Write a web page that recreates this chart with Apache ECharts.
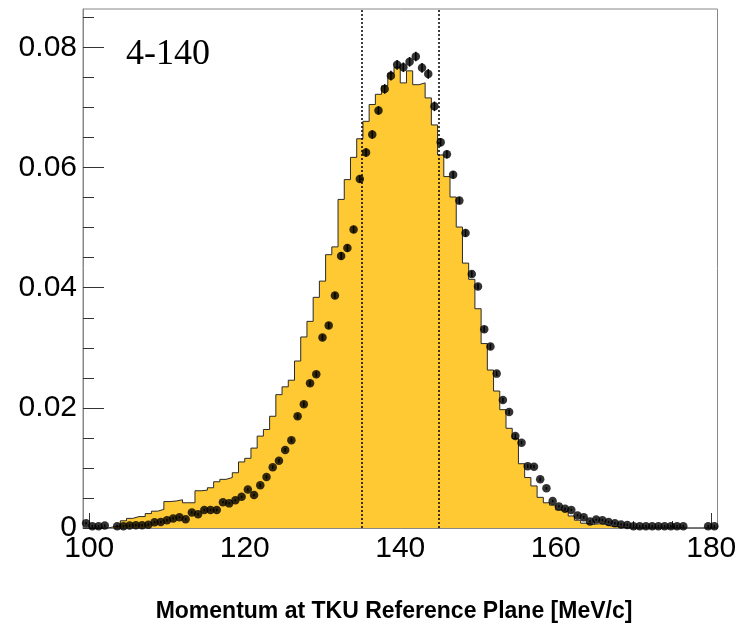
<!DOCTYPE html>
<html>
<head>
<meta charset="utf-8">
<script src="https://cdn.jsdelivr.net/npm/echarts@6/dist/echarts.min.js"></script>
<style>
html,body{margin:0;padding:0;background:#fff;}
#c{width:740px;height:628px;}
</style>
</head>
<body>
<div id="c"></div>
<script>
// Binning of the histogram (bin edges = binLow + k*binWidth)
const binLow = 99.2;
const binWidth = 0.8;

// Simulated histogram (yellow filled), one value per bin (102 bins)
const histValues = [
  0, 0, 0, 0, 0.0002, 0.0003, 0.0012, 0.0016, 0.0019, 0.0019,
  0.0024, 0.0028, 0.0031, 0.0044, 0.0045, 0.0047, 0.0042, 0.0042, 0.0062, 0.0063,
  0.0067, 0.0077, 0.0081, 0.0084, 0.0092, 0.0110, 0.0116, 0.0133, 0.0153, 0.0164,
  0.0186, 0.0222, 0.0235, 0.0246, 0.0278, 0.0318, 0.0344, 0.0384, 0.0411, 0.0455,
  0.0468, 0.0547, 0.0580, 0.0617, 0.0648, 0.0677, 0.0705, 0.0722, 0.0736, 0.0757,
  0.0767, 0.0741, 0.0761, 0.0738, 0.0741, 0.0716, 0.0671, 0.0621, 0.0585, 0.0551,
  0.0501, 0.0441, 0.0414, 0.0365, 0.0307, 0.0263, 0.0228, 0.0197, 0.0166, 0.0149,
  0.0107, 0.0084, 0.0070, 0.0051, 0.0042, 0.0038, 0.0030, 0.0027, 0.0020, 0.0013,
  0.0008, 0.0006, 0.0007, 0.0006, 0.0003, 0.0002, 0.0001, 0, 0, 0,
  0, 0, 0, 0, 0, 0, 0, 0, 0, 0,
  0, 0
];

// Data points (black markers), one per bin; null = empty bin
const dataValues = [
  0.0008, 0.0003, 0.0003, 0.0004, null, 0.0003, 0.0003, 0.0004, 0.00045, 0.00045,
  0.00056, 0.00095, 0.0010, 0.0013, 0.0016, 0.0018, 0.00145, 0.0026, 0.0023, 0.0030,
  0.0030, 0.0030, 0.0043, 0.0041, 0.0046, 0.0052, 0.0064, 0.0055, 0.0071, 0.0085,
  0.0101, 0.0112, 0.0130, 0.0146, 0.0186, 0.0206, 0.0241, 0.0256, 0.0317, 0.0337,
  0.0387, 0.0453, 0.0466, 0.0497, 0.0581, 0.0625, 0.0655, 0.0695, 0.0731, 0.0753,
  0.0771, 0.0767, 0.0776, 0.0785, 0.0766, 0.0756, 0.0702, 0.0642, 0.0622, 0.0588,
  0.0545, 0.0491, 0.0423, 0.0402, 0.0331, 0.0302, 0.0257, 0.0213, 0.0193, 0.0153,
  0.0142, 0.0103, 0.0102, 0.0081, 0.0066, 0.0045, 0.0036, 0.0032, 0.0030, 0.0021,
  0.0018, 0.0011, 0.0014, 0.0013, 0.0010, 0.0008, 0.0006, 0.0005, 0.0003, 0.0003,
  0.0003, 0.0003, 0.0003, 0.0003, 0.0003, 0.0003, 0.0003, null, null, null,
  0.0003, 0.0003
];

// Statistical errors of the data points
const dataErrors = [
  0.0002, 0.0002, 0.0002, 0.0002, 0, 0.0002, 0.0002, 0.0002, 0.0002, 0.0002,
  0.0002, 0.0002, 0.0002, 0.0002, 0.0002, 0.0002, 0.0002, 0.0002, 0.0002, 0.0002,
  0.0002, 0.0002, 0.0002, 0.0002, 0.0002, 0.0002, 0.0002, 0.0002, 0.0003, 0.0003,
  0.0003, 0.0003, 0.0003, 0.0003, 0.0004, 0.0004, 0.0004, 0.0004, 0.0005, 0.0005,
  0.0005, 0.0006, 0.0006, 0.0006, 0.0006, 0.0007, 0.0007, 0.0007, 0.0008, 0.0008,
  0.0008, 0.0008, 0.0008, 0.0008, 0.0008, 0.0008, 0.0008, 0.0007, 0.0007, 0.0006,
  0.0006, 0.0006, 0.0005, 0.0005, 0.0005, 0.0005, 0.0004, 0.0004, 0.0004, 0.0004,
  0.0003, 0.0003, 0.0003, 0.0003, 0.0002, 0.0002, 0.0002, 0.0002, 0.0002, 0.0002,
  0.0002, 0.0002, 0.0002, 0.0002, 0.0002, 0.0002, 0.0002, 0.0002, 0.0002, 0.0002,
  0.0002, 0.0002, 0.0002, 0.0002, 0.0002, 0.0002, 0.0002, 0, 0, 0,
  0.0002, 0.0002
];

// Axis ticks / labels
const xLabelTicks = [100, 120, 140, 160, 180];
const xMinorTicks = [100, 105, 110, 115, 120, 125, 130, 135, 140, 145, 150, 155, 160, 165, 170, 175, 180];
const yLabelTicks = [0, 0.02, 0.04, 0.06, 0.08];
const yMinorTicks = [0, 0.005, 0.01, 0.015, 0.02, 0.025, 0.03, 0.035, 0.04, 0.045, 0.05, 0.055, 0.06, 0.065, 0.07, 0.075, 0.08, 0.085];
const cutLines = [135, 145];
const panelLabel = '4-140';
const xTitle = 'Momentum at TKU Reference Plane [MeV/c]';
const yMax = 0.0864;

// Build series data
const nBins = histValues.length;
const xMin = binLow;
const xMax = binLow + nBins * binWidth;
const histLine = [];
for (let k = 0; k < nBins; k++) histLine.push([binLow + k * binWidth, histValues[k]]);
histLine.push([xMax, histValues[nBins - 1]]);

const points = [];
const errBars = [];
for (let k = 0; k < dataValues.length; k++) {
  const v = dataValues[k];
  if (v === null) continue;
  const c = binLow + (k + 0.5) * binWidth;
  points.push([c, v]);
  if (dataErrors[k] > 0) errBars.push([c, v - dataErrors[k], v + dataErrors[k]]);
}

const FONT = 'Liberation Sans, Arial, Helvetica, sans-serif';
const chart = echarts.init(document.getElementById('c'), null, {renderer: 'canvas'});

chart.setOption({
  animation: false,
  backgroundColor: '#fff',
  grid: {
    left: 83, right: 22.5, top: 9, bottom: 100,
    outerBoundsMode: 'none', containLabel: false,
    show: true, borderColor: '#888', borderWidth: 1, backgroundColor: 'transparent'
  },
  xAxis: [
    {
      type: 'value', min: xMin, max: xMax, position: 'bottom',
      axisLine: {show: true, lineStyle: {color: '#888', width: 1}},
      axisTick: {show: true, inside: true, length: 15, customValues: xLabelTicks, lineStyle: {color: '#333', width: 1}},
      axisLabel: {show: true, customValues: xLabelTicks, margin: 6, color: '#000', fontSize: 30, fontFamily: FONT,
                  formatter: v => String(Math.round(v))},
      splitLine: {show: false}
    },
    {
      type: 'value', min: xMin, max: xMax, position: 'bottom', offset: 0,
      axisLine: {show: false},
      axisTick: {show: true, inside: true, length: 7, customValues: xMinorTicks, lineStyle: {color: '#333', width: 1}},
      axisLabel: {show: false},
      splitLine: {show: false}
    }
  ],
  yAxis: [
    {
      type: 'value', min: 0, max: yMax, position: 'left',
      axisLine: {show: true, lineStyle: {color: '#888', width: 1}},
      axisTick: {show: true, inside: true, length: 21, customValues: yLabelTicks, lineStyle: {color: '#333', width: 1}},
      axisLabel: {show: true, customValues: yLabelTicks, margin: 6, color: '#000', fontSize: 30, fontFamily: FONT,
                  formatter: v => (Math.abs(v) < 1e-9 ? '0' : v.toFixed(2))},
      splitLine: {show: false}
    },
    {
      type: 'value', min: 0, max: yMax, position: 'left', offset: 0,
      axisLine: {show: false},
      axisTick: {show: true, inside: true, length: 11, customValues: yMinorTicks, lineStyle: {color: '#333', width: 1}},
      axisLabel: {show: false},
      splitLine: {show: false}
    }
  ],
  series: [
    {
      name: 'MC', type: 'line', step: 'end', xAxisIndex: 0, yAxisIndex: 0,
      data: histLine, symbol: 'none', silent: true, z: 2,
      lineStyle: {color: '#2a2a2a', width: 1},
      areaStyle: {color: '#ffc933', opacity: 1, origin: 'start'}
    },
    {
      name: 'cuts', type: 'line', data: [], xAxisIndex: 0, yAxisIndex: 0, z: 3,
      markLine: {
        silent: true, symbol: ['none', 'none'], animation: false,
        label: {show: false},
        lineStyle: {color: '#000', width: 1.5, type: [2, 2]},
        data: cutLines.map(v => ({xAxis: v}))
      }
    },
    {
      name: 'errors', type: 'custom', xAxisIndex: 0, yAxisIndex: 0, z: 4, silent: true,
      data: errBars,
      renderItem: function (params, api) {
        const p1 = api.coord([api.value(0), api.value(1)]);
        const p2 = api.coord([api.value(0), api.value(2)]);
        return {type: 'line', shape: {x1: p1[0], y1: p1[1], x2: p2[0], y2: p2[1]},
                style: {stroke: '#000', lineWidth: 1.5}};
      }
    },
    {
      name: 'Data', type: 'scatter', xAxisIndex: 0, yAxisIndex: 0, z: 5, silent: true,
      data: points, symbol: 'circle', symbolSize: 8.5,
      itemStyle: {color: '#000'}
    }
  ],
  graphic: [
    {type: 'text', left: 126, top: 37, z: 10,
     style: {text: panelLabel, font: '36px "Liberation Serif", "Times New Roman", serif', fill: '#000'}},
    {type: 'text', x: 394, y: 612, z: 10,
     style: {text: xTitle, font: 'bold 23px ' + FONT, fill: '#000', align: 'center', verticalAlign: 'middle'}}
  ]
});
</script>
</body>
</html>
